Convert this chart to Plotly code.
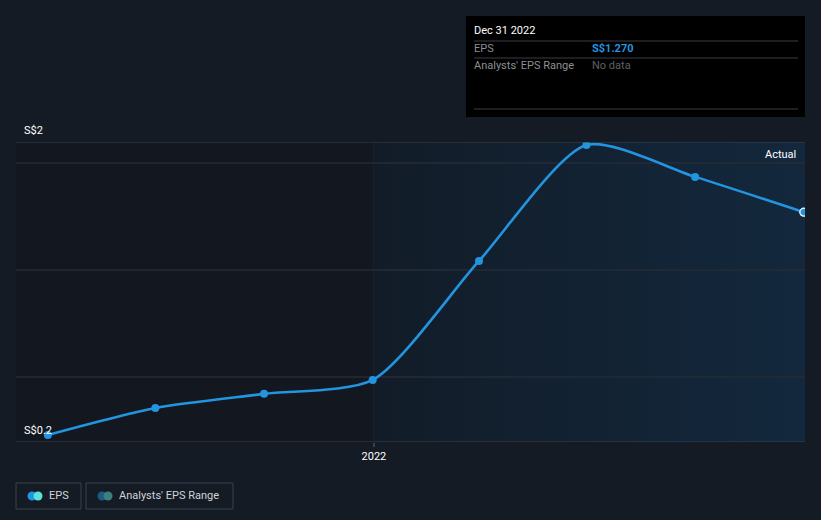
import plotly.graph_objects as go

# ---- data ----
dates = ["2021-03-31", "2021-06-30", "2021-09-30", "2021-12-31",
         "2022-03-31", "2022-06-30", "2022-09-30", "2022-12-31"]
eps = [0.229, 0.355, 0.421, 0.486, 1.042, 1.584, 1.435, 1.270]
y_tick_labels = ["S$2", "S$0.2"]
x_tick_vals = ["2022-01-01"]
x_tick_text = ["2022"]
forecast_start = "2022-01-01"
x_range = ["2021-03-04", "2023-01-01"]
y_range = [0.196, 1.598]
grid_vals = [0.5, 1.0, 1.5]

W, H = 821, 520
L, R, T, B = 16, 16, 142, 78
PW, PH = W - L - R, H - T - B

BG = "#151b24"
BLUE = "#2394df"
FONT = "Roboto"


def px(x):
    return (x - L) / PW


def py(y):
    return (H - B - y) / PH


fig = go.Figure()

# shaded "actual" region to the right of 2022 (horizontal gradient)
fig.add_trace(go.Scatter(
    x=[forecast_start, x_range[1], x_range[1], forecast_start, forecast_start],
    y=[y_range[0], y_range[0], y_range[1], y_range[1], y_range[0]],
    mode="lines", line=dict(width=0), fill="toself",
    fillgradient=dict(type="horizontal",
                      colorscale=[[0, "#121c28"], [1, "#13283d"]]),
    hoverinfo="skip", showlegend=False,
))

# gridlines (as traces so they sit above the shaded region, below the line)
for g in grid_vals:
    fig.add_trace(go.Scatter(
        x=x_range, y=[g, g], mode="lines",
        line=dict(color="#242c37", width=1.5),
        hoverinfo="skip", showlegend=False,
    ))

# EPS line
fig.add_trace(go.Scatter(
    x=dates, y=eps, mode="lines+markers",
    line=dict(color=BLUE, width=2.6, shape="spline", smoothing=0.7),
    marker=dict(size=8, color=BLUE,
                line=dict(color=[BLUE] * (len(eps) - 1) + ["#ffffff"],
                          width=[0] * (len(eps) - 1) + [1.2])),
    hoverinfo="skip", showlegend=False,
))

shapes = []
# left darker region
shapes.append(dict(type="rect", xref="x", yref="y", x0=x_range[0], x1=forecast_start,
                   y0=y_range[0], y1=y_range[1], fillcolor="#13171f", line=dict(width=0), layer="below"))
# top & bottom lines
for yy in y_range:
    shapes.append(dict(type="line", xref="paper", yref="y", x0=0, x1=1, y0=yy, y1=yy,
                       line=dict(color="#3b424c", width=1.2), layer="above"))
# vertical divider at 2022
shapes.append(dict(type="line", xref="x", yref="y", x0=forecast_start, x1=forecast_start,
                   y0=y_range[0], y1=y_range[1], line=dict(color="#1b2833", width=1), layer="below"))

# tooltip box
shapes.append(dict(type="rect", xref="paper", yref="paper", x0=px(466), x1=px(805),
                   y0=py(117), y1=py(16), fillcolor="#000000", line=dict(width=0)))
for ly in (41, 58, 109):
    shapes.append(dict(type="line", xref="paper", yref="paper", x0=px(474), x1=px(798),
                       y0=py(ly), y1=py(ly), line=dict(color="#3a3d42", width=1)))

# legend boxes
for (x0, x1) in ((16, 81), (86, 233)):
    shapes.append(dict(type="rect", xref="paper", yref="paper", x0=px(x0), x1=px(x1),
                       y0=py(509), y1=py(483), line=dict(color="#3b424c", width=1),
                       fillcolor="rgba(0,0,0,0)"))
# legend dots
for cx, col in ((32, "#2394df"), (38, "#5ce0d8"), (102, "#1d5b82"), (108, "#3b807e")):
    r = 4.5
    shapes.append(dict(type="circle", xref="paper", yref="paper",
                       x0=px(cx - r), x1=px(cx + r), y0=py(496 + r), y1=py(496 - r),
                       fillcolor=col, line=dict(width=0)))

annotations = []


def text(x, y, s, color="#ffffff", size=11, xanchor="left", bold=False):
    annotations.append(dict(xref="paper", yref="paper", x=px(x), y=py(y),
                            text=(f"<b>{s}</b>" if bold else s),
                            showarrow=False, xanchor=xanchor, yanchor="middle",
                            font=dict(family=FONT, size=size, color=color)))


text(22, 130, y_tick_labels[0], size=11)
text(22, 430, y_tick_labels[1], size=11)
text(798, 154, "Actual", size=11, xanchor="right")

text(472, 31, "Dec 31 2022", size=11)
text(472, 48, "EPS", color="#8c8f94", size=11)
text(590, 48, f"S${eps[-1]:.3f}", color=BLUE, size=11, bold=True)
text(472, 66, "Analysts' EPS Range", color="#8c8f94", size=11)
text(590, 66, "No data", color="#5d6066", size=11)

text(47, 495, "EPS", color="#d0d3d8", size=11)
text(117, 495, "Analysts' EPS Range", color="#d0d3d8", size=11)

fig.update_layout(
    width=W, height=H,
    margin=dict(l=L, r=R, t=T, b=B),
    paper_bgcolor=BG, plot_bgcolor=BG,
    showlegend=False,
    font=dict(family=FONT, color="#ffffff", size=11),
    xaxis=dict(type="date", range=x_range, showgrid=False, zeroline=False,
               tickvals=x_tick_vals, ticktext=x_tick_text,
               ticks="outside", ticklen=4, tickwidth=1.5, tickcolor="#3b424c",
               tickfont=dict(family=FONT, size=11, color="#ffffff"), fixedrange=True),
    yaxis=dict(range=y_range, showgrid=False, zeroline=False, showticklabels=False,
               fixedrange=True),
    shapes=shapes, annotations=annotations,
)

fig.write_html(
    "out.html",
    config={"displayModeBar": False},
    post_script="document.body.style.margin='0';document.body.style.background='#151b24';",
)
